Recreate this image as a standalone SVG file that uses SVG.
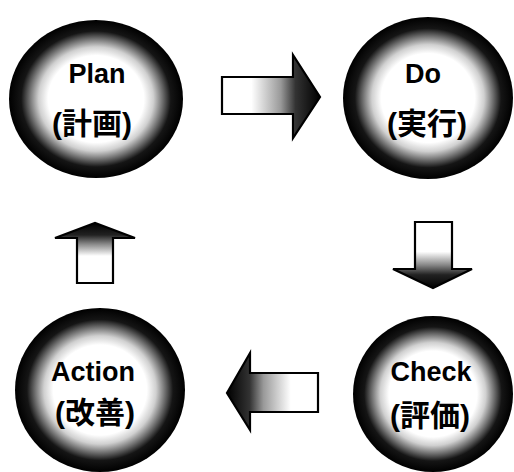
<svg xmlns="http://www.w3.org/2000/svg" width="514" height="472" viewBox="0 0 514 472">
  <style>
    .lat { font-family: "Liberation Sans", Arial, sans-serif; font-weight: bold; font-size: 27px; fill: #000; text-anchor: middle; }
    .cjk { font-family: "Liberation Sans", "Noto Sans CJK JP", sans-serif; font-weight: bold; font-size: 30px; fill: #000; text-anchor: middle; }
    .arrow { stroke: #000; stroke-width: 2.2; stroke-linejoin: miter; }
  </style>
  <defs>
    <radialGradient id="ball" cx="0.5" cy="0.5" r="0.5">
      <stop offset="0" stop-color="#fff"/>
      <stop offset="0.55" stop-color="#fff"/>
      <stop offset="0.66" stop-color="#d0d0d0"/>
      <stop offset="0.77" stop-color="#6a6a6a"/>
      <stop offset="0.86" stop-color="#151515"/>
      <stop offset="1" stop-color="#000"/>
    </radialGradient>
    <linearGradient id="gR" x1="0" y1="0" x2="1" y2="0">
      <stop offset="0" stop-color="#fff"/>
      <stop offset="0.3" stop-color="#fff"/>
      <stop offset="0.6" stop-color="#999"/>
      <stop offset="0.75" stop-color="#333"/>
      <stop offset="1" stop-color="#000"/>
    </linearGradient>
    <linearGradient id="gL" x1="1" y1="0" x2="0" y2="0">
      <stop offset="0" stop-color="#fff"/>
      <stop offset="0.3" stop-color="#fff"/>
      <stop offset="0.6" stop-color="#999"/>
      <stop offset="0.75" stop-color="#333"/>
      <stop offset="1" stop-color="#000"/>
    </linearGradient>
    <linearGradient id="gD" x1="0" y1="0" x2="0" y2="1">
      <stop offset="0" stop-color="#fff"/>
      <stop offset="0.45" stop-color="#fff"/>
      <stop offset="0.65" stop-color="#888"/>
      <stop offset="0.8" stop-color="#222"/>
      <stop offset="1" stop-color="#000"/>
    </linearGradient>
    <linearGradient id="gU" x1="0" y1="1" x2="0" y2="0">
      <stop offset="0" stop-color="#fff"/>
      <stop offset="0.45" stop-color="#fff"/>
      <stop offset="0.65" stop-color="#888"/>
      <stop offset="0.8" stop-color="#222"/>
      <stop offset="1" stop-color="#000"/>
    </linearGradient>
  </defs>

  <g id="connectors">
    <path id="arrow-plan-do" class="arrow" fill="url(#gR)" d="M222,77 L293,77 L293,55 L320,97 L293,138 L293,114 L222,114 Z"/>
    <path id="arrow-do-check" class="arrow" fill="url(#gD)" d="M415,222 L452,222 L452,269 L472,269 L433,288 L393,269 L415,269 Z"/>
    <path id="arrow-check-action" class="arrow" fill="url(#gL)" d="M318,373 L250,373 L250,353 L227,393 L250,430 L250,412 L318,412 Z"/>
    <path id="arrow-action-plan" class="arrow" fill="url(#gU)" d="M77,283 L113,283 L113,238 L135,238 L95,223 L55,238 L77,238 Z"/>
  </g>

  <g id="plan">
    <ellipse cx="96" cy="99" rx="87" ry="79" fill="url(#ball)"/>
    <text class="lat" x="97" y="83">Plan</text>
    <text class="cjk" x="92" y="134">(計画)</text>
  </g>

  <g id="do">
    <ellipse cx="428" cy="98" rx="85" ry="81" fill="url(#ball)"/>
    <text class="lat" x="423" y="83">Do</text>
    <text class="cjk" x="427" y="134">(実行)</text>
  </g>

  <g id="check">
    <ellipse cx="433" cy="394" rx="80" ry="78" fill="url(#ball)"/>
    <text class="lat" x="431" y="381">Check</text>
    <text class="cjk" x="430" y="426">(評価)</text>
  </g>

  <g id="action">
    <ellipse cx="100" cy="390" rx="85" ry="82" fill="url(#ball)"/>
    <text class="lat" x="93" y="381">Action</text>
    <text class="cjk" x="95" y="423">(改善)</text>
  </g>
</svg>
